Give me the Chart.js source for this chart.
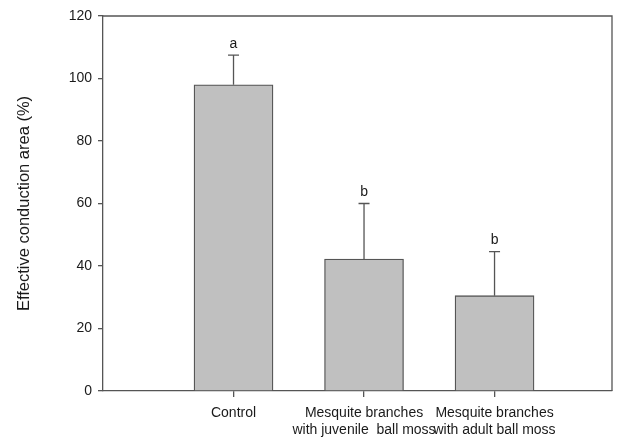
<!DOCTYPE html>
<html>
<head>
<meta charset="utf-8">
<script src="https://cdn.jsdelivr.net/npm/chart.js@4/dist/chart.umd.min.js"></script>
<style>
  html, body { margin: 0; padding: 0; background: #fff; }
  #wrap { width: 626px; height: 440px; position: relative; }
</style>
</head>
<body>
<div id="wrap"><canvas id="c" width="626" height="440"></canvas></div>
<script>
const categories = [
  ["Control"],
  ["Mesquite branches", "with juvenile  ball moss"],
  ["Mesquite branches", "with adult ball moss"]
];
const means = [98, 42.2, 30.5];
const errorTops = [107.5, 60.0, 44.6];
const letters = ["a", "b", "b"];
const yTicks = [0, 20, 40, 60, 80, 100, 120];

const AXIS = "#555555";
const TEXT = "#1a1a1a";
const FONT = "'Liberation Sans', Arial, sans-serif";

const points = means.map((v, i) => ({ x: i + 1, y: v }));

const extras = {
  id: "extras",
  afterDatasetsDraw(chart) {
    const ctx = chart.ctx;
    const y = chart.scales.y;
    const meta = chart.getDatasetMeta(0);
    ctx.save();
    ctx.strokeStyle = AXIS;
    ctx.lineWidth = 1.3;
    meta.data.forEach((bar, i) => {
      const x = bar.x;
      const yTop = y.getPixelForValue(means[i]);
      const yErr = y.getPixelForValue(errorTops[i]);
      ctx.beginPath();
      ctx.moveTo(x, yTop);
      ctx.lineTo(x, yErr);
      ctx.moveTo(x - 5.5, yErr);
      ctx.lineTo(x + 5.5, yErr);
      ctx.stroke();
      ctx.fillStyle = TEXT;
      ctx.font = "14px " + FONT;
      ctx.textAlign = "center";
      ctx.textBaseline = "bottom";
      ctx.fillText(letters[i], x, yErr - 4);
    });
    const a = chart.chartArea;
    ctx.lineWidth = 1.3;
    ctx.beginPath();
    ctx.moveTo(a.left, a.top);
    ctx.lineTo(a.right, a.top);
    ctx.lineTo(a.right, a.bottom);
    ctx.stroke();
    ctx.restore();
  }
};

new Chart(document.getElementById("c"), {
  type: "bar",
  data: {
    datasets: [{
      data: points,
      backgroundColor: "#c0c0c0",
      borderColor: AXIS,
      borderWidth: 1.3,
      barThickness: 79
    }]
  },
  options: {
    responsive: false,
    animation: false,
    layout: { padding: { left: 0, right: 14, top: 16, bottom: 0 } },
    plugins: { legend: { display: false }, tooltip: { enabled: false } },
    scales: {
      x: {
        type: "linear",
        min: 0,
        max: 3.9,
        offset: false,
        afterBuildTicks(scale) { scale.ticks = categories.map((c, i) => ({ value: i + 1 })); },
        afterFit(scale) { scale.height = 49; },
        grid: { display: true, offset: false, drawOnChartArea: false, tickLength: 6, color: AXIS, lineWidth: 1.3 },
        border: { display: true, color: AXIS, width: 1.3 },
        ticks: {
          color: TEXT,
          font: { family: FONT, size: 14, lineHeight: 1.2 },
          padding: 8,
          maxRotation: 0,
          autoSkip: false,
          callback(value) { return categories[Math.round(value) - 1]; }
        }
      },
      y: {
        min: 0,
        max: 120,
        afterBuildTicks(scale) { scale.ticks = yTicks.map(v => ({ value: v })); },
        afterFit(scale) { scale.width = 103; },
        grid: { display: true, drawOnChartArea: false, tickLength: 5, color: AXIS, lineWidth: 1.3 },
        border: { display: true, color: AXIS, width: 1.3 },
        ticks: {
          color: TEXT,
          font: { family: FONT, size: 14 },
          padding: 6
        },
        title: {
          display: true,
          text: "Effective conduction area (%)",
          color: TEXT,
          font: { family: FONT, size: 16.5 },
          padding: { top: 15, bottom: 0 }
        }
      }
    }
  },
  plugins: [extras]
});
</script>
</body>
</html>
